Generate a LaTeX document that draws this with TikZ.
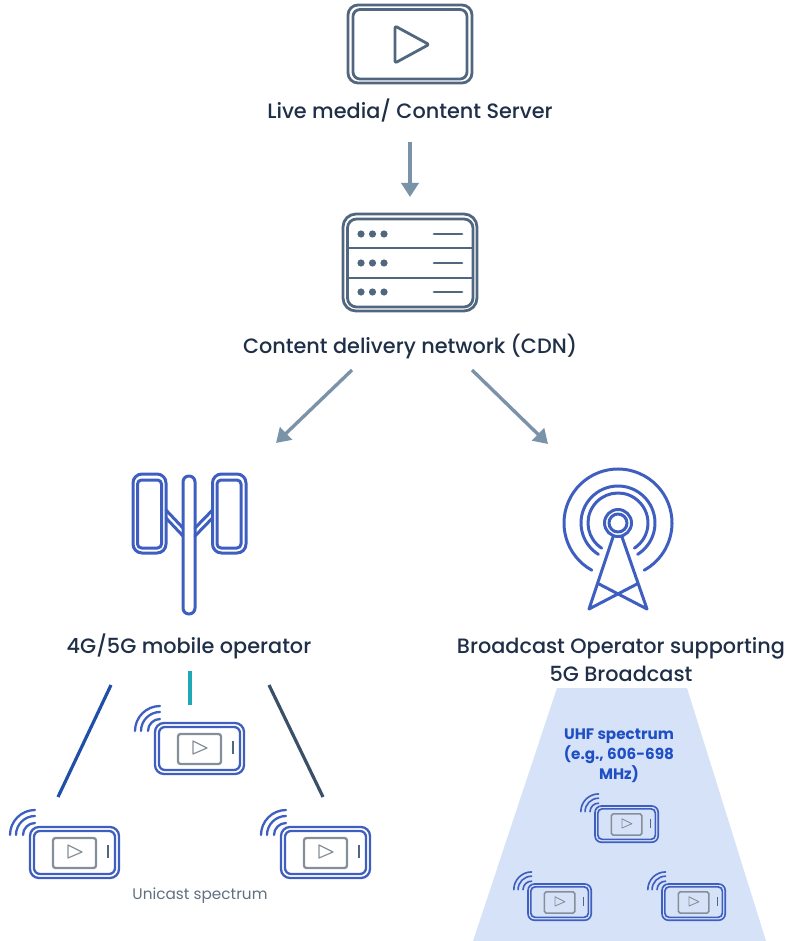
\documentclass[tikz,border=0pt]{standalone}
\usepackage{fontspec}
\setmainfont{Poppins}
\newfontfamily\medfont{Poppins Medium}
\usetikzlibrary{arrows.meta}
\definecolor{iconslate}{HTML}{51677F}
\definecolor{iconblue}{HTML}{3F5FC0}
\definecolor{arrowgrey}{HTML}{7B93A8}
\definecolor{inktext}{HTML}{1E2F47}
\definecolor{beamfill}{HTML}{D6E2F7}
\definecolor{uhfblue}{HTML}{1F4FC4}
\definecolor{unigrey}{HTML}{5F7080}
\definecolor{screengrey}{HTML}{858F9A}
\definecolor{linkblue}{HTML}{1F4FA8}
\definecolor{linkteal}{HTML}{1FA8B8}
\definecolor{linkdark}{HTML}{3A4F68}
\tikzset{
  labeltext/.style={font=\medfont\fontsize{20.8}{28}\selectfont,text=inktext,inner sep=0pt,align=center},
  flow/.style={draw=arrowgrey,line width=3.4pt,-{Triangle[length=14pt,width=17pt]}},
  slate/.style={draw=iconslate,line width=2.8pt,line join=round,line cap=round},
  bluei/.style={draw=iconblue,line width=3pt,line join=round,line cap=round},
  unilink/.style={line width=3.2pt}
}
\newcommand\phoneicon[3]{%
  \begin{scope}[shift={(#1,#2)},scale=#3]
    \pgfmathsetmacro\lw{#3}
    \draw[iconblue,line width=2.3pt*\lw,rounded corners=9pt*\lw] (0,0) rectangle (89,51);
    \draw[iconblue,line width=2.3pt*\lw,rounded corners=6pt*\lw] (4,4) rectangle (85,47);
    \draw[screengrey,line width=2.3pt*\lw,rounded corners=2.5pt*\lw] (23,11) rectangle (66,41);
    \draw[screengrey,line width=1.2pt*\lw,line join=round] (38,18) -- (52,25) -- (38,31) -- cycle;
    \draw[iconslate,line width=2pt*\lw] (78,18) -- (78,31);
    \foreach \r in {12,19,25}{
      \draw[iconblue,line width=2.3pt*\lw,line cap=round]
        ({5-\r},8) .. controls ({5-\r},{8-.55*\r}) and ({5-.55*\r},{8-\r}) .. (5,{8-\r});
    }
  \end{scope}%
}
\newcommand\wavearc[2]{%
  \draw[bluei] ({618+#1*cos(180+#2)},{523+#1*sin(-180-#2)}) arc[start angle=180+#2,end angle=-#2,radius=#1 pt];
}
\begin{document}
\begin{tikzpicture}[x=1pt,y=-1pt]
\useasboundingbox (0,0) rectangle (786,941);
% beam
\fill[beamfill] (557,688) -- (687,688) -- (766,941) -- (473,941) -- cycle;

% video icon
\draw[slate,rounded corners=10pt] (348,5) rectangle (472,83);
\draw[slate,rounded corners=7pt] (353,9.5) rectangle (467,79);
\draw[slate,rounded corners=2pt] (395,26) -- (429,44.5) -- (395,63) -- cycle;
\node[labeltext] (live) at (410,111) {Live media/ Content Server};

% server icon
\draw[slate,rounded corners=13pt] (343,214) rectangle (477,311);
\draw[slate,rounded corners=9pt] (347.5,219) rectangle (473,307);
\draw[slate] (347.5,248) -- (473,248);
\draw[slate] (347.5,278) -- (473,278);
\foreach \yy in {234,263,292}{
  \fill[iconslate] (361,\yy) circle[radius=3.6pt];
  \fill[iconslate] (372.5,\yy) circle[radius=3.6pt];
  \fill[iconslate] (384,\yy) circle[radius=3.6pt];
  \draw[slate] (434,\yy) -- (462,\yy);
}
\node[labeltext] (cdn) at (410,346) {Content delivery network (CDN)};

% mast icon
\draw[bluei,rounded corners=9pt] (133,474) rectangle (166,553);
\draw[bluei,rounded corners=4pt] (137.5,480) rectangle (161.5,548);
\draw[bluei,rounded corners=9pt] (212.5,474) rectangle (246,553);
\draw[bluei,rounded corners=4pt] (217,480) rectangle (241,548);
\draw[bluei,rounded corners=5.9pt] (183,476) rectangle (195,614);
\draw[bluei] (166,510) -- (183,528) (166,518) -- (183,536);
\draw[bluei] (195,528) -- (212.5,510) (195,536) -- (212.5,518);
\node[labeltext] (mobile) at (189,646) {4G/5G mobile operator};

% tower icon
\draw[bluei] (618,523) circle[radius=13.5pt];
\draw[bluei] (618,523) circle[radius=9pt];
\wavearc{54}{61}
\wavearc{37}{58}
\wavearc{30}{57}
\draw[bluei] (613,537) -- (589,609) -- (637,584);
\draw[bluei] (622,537) -- (647,609) -- (599,584);
\node[labeltext] (bcast) at (621,660) {Broadcast Operator supporting\\5G Broadcast};

% connectors
\coordinate (a1s) at (410,142); \coordinate (a1e) at (410,197);
\coordinate (a2s) at (352,370); \coordinate (a2e) at (276,443);
\coordinate (a3s) at (472,370); \coordinate (a3e) at (548,444);
\draw[flow] (a1s) -- (a1e);
\draw[flow] (a2s) -- (a2e);
\draw[flow] (a3s) -- (a3e);
\coordinate (l1s) at (111,685); \coordinate (l1e) at (58,797);
\coordinate (l2s) at (190,671); \coordinate (l2e) at (190,705);
\coordinate (l3s) at (269,685); \coordinate (l3e) at (323,797);
\draw[unilink,linkblue] (l1s) -- (l1e);
\draw[unilink,linkteal] (l2s) -- (l2e);
\draw[unilink,linkdark] (l3s) -- (l3e);

% phones
\phoneicon{30}{827}{1}
\phoneicon{155}{723}{1}
\phoneicon{281}{827}{1}
\phoneicon{595}{806}{.71}
\phoneicon{528}{884}{.71}
\phoneicon{662}{884}{.71}

\node[font=\fontsize{15.3}{18}\selectfont,text=unigrey,inner sep=0pt] (uni) at (200,896) {Unicast spectrum};
\node[font=\fontsize{15.2}{20}\selectfont\bfseries,text=uhfblue,inner sep=0pt,align=center] (uhf) at (619,756) {UHF spectrum\\(e.g., 606-698\\MHz)};
\end{tikzpicture}
\end{document}
